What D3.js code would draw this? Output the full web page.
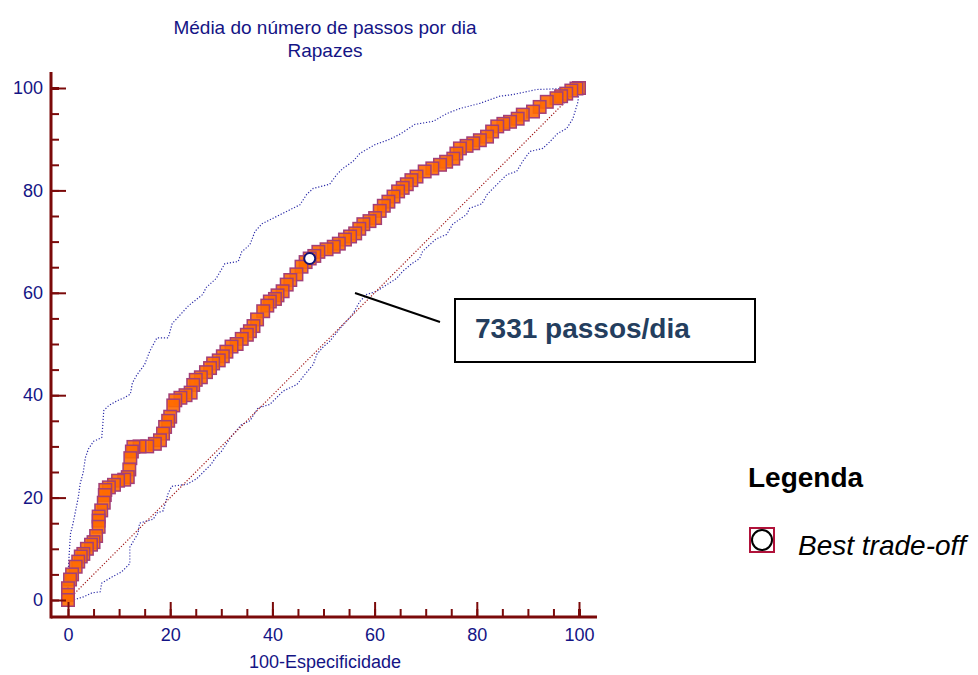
<!DOCTYPE html>
<html lang="pt">
<head>
  <meta charset="UTF-8">
  <title>Média do número de passos por dia - Rapazes</title>
  <script src="https://cdn.jsdelivr.net/npm/d3@7"></script>
  <style>
    body { margin: 0; background: #fff; }
    svg { display: block; font-family: "Liberation Sans", Arial, sans-serif; }
  </style>
</head>
<body>
  <script>

    // ROC curve (100-Especificidade, Sensibilidade)
    var rocX = [0,0,0,0.4,0.8,1.5,2,2.5,3,3.7,4.5,5,5.5,6,6,6,6.5,7,7.2,7.3,8,9,9.8,11,11.7,12,12.2,12.5,12.8,14,15.5,17,18,18.6,19,19.6,20,20.6,21,22,23,24,24.5,25,26,27,27.8,28.4,29.5,30.3,31,32,33,34,35,35.6,36.3,37,38.2,39,39.5,40.5,41,42,42.8,43.5,44.7,45.7,46.5,47.3,48.2,49,50.6,52,53,54.2,55.2,56.2,57,57.8,59,60.1,61,61.8,62.7,63.7,64.6,65.5,66.3,67.2,68.2,69.8,71.3,72.8,74,75.4,76,76.7,78,79.3,80.6,82,83,84,85.2,86.5,88,89,91,92.3,93.7,95.6,96.5,97.5,98.5,99.5,100];
    var rocY = [0,1,2.3,4,5,6.5,7.5,8.5,9,10,10.8,11.3,12.5,14.3,15.5,16.3,17.5,19,20.5,21.5,22,22.5,23.3,23.5,24,25.5,27.7,29,29.9,30,30,30.5,31.2,32.5,33.8,35,35.8,38,39,39.5,40,40.5,42,43,43.5,44.5,45.3,46.2,46.8,47.6,48.5,49.5,50,51,51.8,52.5,53.5,54.8,56.4,57.5,58.3,58.8,59.5,60.3,61.6,62.5,63.6,65.1,66,66.7,67.2,68,68.5,69,69.6,70.4,71,71.6,72.5,73.4,74,74.6,76,77,77.8,78.8,79.8,80.5,81.2,82,82.7,83.7,84.3,85,85.6,86.2,87.2,88.2,88.7,89.2,89.8,90.5,91.5,92.5,93,93.4,94,94.8,95.4,96.3,97.3,98,98.4,98.9,99.5,99.9,100];

    // upper 95% confidence bound
    var upperX = [0,0,0.3,0.5,1,1.4,2,2.4,3,3.4,4,5,6.6,6.8,7,8,9.6,11,12.2,12.6,13.5,15,16,17.4,19.6,20.4,22.6,23.6,26.4,27,29,30.7,33.3,34,35.6,36.6,38,41,43,45.4,46.7,48,51.2,52.6,53.8,55.8,57.1,60,63,65,67.9,71.5,74.1,76.7,80.6,84.5,87,91.7,96.8,100];
    var upperY = [0,5,10,13,15,17,20,22.8,25,27.8,29.5,31,31.7,34,37,38,38.9,39.5,40.2,42.4,44,46,48.6,51.2,51.2,54,56.4,57.5,59.7,61,62.8,65.7,66.1,68,69.4,72,73.5,75,76,77.2,79.2,80.4,81.2,83.1,84.3,85.7,87.2,88.9,90,91,92.9,93.5,95,96,97,98.4,98.7,99.7,99.9,100];

    // lower 95% confidence bound
    var lowerX = [0,1,3,4.7,6.3,6.6,8.6,10.5,12.1,12.1,13.7,14,16.7,17.4,18.6,19.6,20.3,23.3,25.2,26.5,28,29,30,31,32,34,35.6,37.2,39.5,42.1,44.8,46.8,48,48.7,50,51.2,53.2,55.7,57.1,58.5,60.4,62.4,64.3,65.5,67.3,68.8,69.4,70.8,72,74.1,75.3,78,78.6,81,82,84.5,85.9,87.8,89,90.4,92.9,94.3,95.8,97.6,98.8,99.8,100];
    var lowerY = [0,0,0.6,1.4,1.6,3.3,4.5,5.5,7.1,10.3,13,15,15.8,17,17.4,20.8,22.2,22.6,23.7,25,26.5,28,29,30.5,32,34.3,35,37.5,38.2,40.8,42.1,44.6,46,48,49.5,50.5,53,55.8,58.3,59.7,60.3,61.6,62.8,64.2,65.7,66.7,68.1,69.4,70.5,71.4,73.4,75.3,76.5,77.4,79.2,81.7,83.1,83.7,85.7,87.6,88.2,89.5,91.1,92.1,94,97.3,100];

    // best trade-off criterion
    var bestPoint = [47.3, 66.7];
    var bestLabel = "7331 passos/dia";

    var xTicks = [0, 20, 40, 60, 80, 100];
    var yTicks = [0, 20, 40, 60, 80, 100];
    var minorTicks = d3.range(0, 101, 5);

    var titleLines = ["Média do número de passos por dia", "Rapazes"];
    var xTitle = "100-Especificidade";
    var legendTitle = "Legenda";
    var legendLabel = "Best trade-off";

    var axisColor = "#7b0a0a";
    var textBlue = "#141485";

    var width = 978, height = 675;

    var svg = d3.select("body")
      .append("svg")
        .attr("width", width)
        .attr("height", height);

    var x = d3.scaleLinear().domain([0, 100]).range([68, 579]);
    var y = d3.scaleLinear().domain([0, 100]).range([600, 88]);

    var axisY = 617, axisX = 51;

    // title
    svg.append("g")
      .selectAll("text")
      .data(titleLines)
      .enter()
      .append("text")
        .attr("x", 325)
        .attr("y", function(d, i) { return 34 + i * 23; })
        .attr("text-anchor", "middle")
        .attr("fill", textBlue)
        .style("font-size", "19px")
        .text(function(d) { return d; });

    // confidence bands
    var band = d3.line()
      .x(function(d) { return x(d[0]); })
      .y(function(d) { return y(d[1]); });

    [[upperX, upperY], [lowerX, lowerY]].forEach(function(b) {
      svg.append("path")
        .datum(d3.zip(b[0], b[1]))
        .attr("d", band)
        .attr("fill", "none")
        .attr("stroke", "#2c2ca8")
        .attr("stroke-width", 1.2)
        .attr("stroke-dasharray", "1.2,1.8");
    });

    // diagonal reference line
    svg.append("line")
      .attr("x1", x(0)).attr("y1", y(0))
      .attr("x2", x(100)).attr("y2", y(100))
      .attr("stroke", "#a01818")
      .attr("stroke-width", 1.2)
      .attr("stroke-dasharray", "1.2,1.8");

    // ROC squares
    var pts = d3.zip(rocX, rocY).reverse();
    var sq = 12.5;
    svg.append("g")
      .selectAll("rect")
      .data(pts)
      .enter()
      .append("rect")
        .attr("x", function(d) { return x(d[0]) - sq / 2; })
        .attr("y", function(d) { return y(d[1]) - sq / 2; })
        .attr("width", sq)
        .attr("height", sq)
        .attr("fill", "#ff6a00")
        .attr("fill-opacity", 0.9)
        .attr("stroke", "#a33f78")
        .attr("stroke-width", 1.5);

    // best trade-off point
    svg.append("circle")
      .attr("cx", x(bestPoint[0]))
      .attr("cy", y(bestPoint[1]))
      .attr("r", 5.5)
      .attr("fill", "#fff")
      .attr("stroke", "#141475")
      .attr("stroke-width", 2);

    // axes
    var xMajor = d3.axisBottom(x).tickValues(xTicks).tickSize(-15).tickPadding(11).tickFormat(d3.format("d"));
    var xMinor = d3.axisBottom(x).tickValues(minorTicks).tickSize(-8).tickFormat("");
    var yMajor = d3.axisLeft(y).tickValues(yTicks).tickSize(-15).tickPadding(8).tickFormat(d3.format("d"));
    var yMinor = d3.axisLeft(y).tickValues(minorTicks).tickSize(-8).tickFormat("");

    var gx = svg.append("g").attr("transform", "translate(0," + axisY + ")");
    gx.append("g").call(xMinor);
    gx.append("g").call(xMajor);
    var gy = svg.append("g").attr("transform", "translate(" + axisX + ",0)");
    gy.append("g").call(yMinor);
    gy.append("g").call(yMajor);

    svg.selectAll(".domain").remove();
    svg.selectAll(".tick line").attr("stroke", axisColor).attr("stroke-width", 2);
    gx.select("g:last-child").selectAll(".tick line").attr("stroke-width", 3);
    gy.select("g:last-child").selectAll(".tick line").attr("stroke-width", 3);
    svg.selectAll(".tick text")
      .attr("fill", textBlue)
      .style("font-size", "18px")
      .style("font-family", "'Liberation Sans', Arial, sans-serif");

    svg.append("line")
      .attr("x1", axisX).attr("y1", axisY)
      .attr("x2", 597).attr("y2", axisY)
      .attr("stroke", axisColor).attr("stroke-width", 3);
    svg.append("line")
      .attr("x1", axisX).attr("y1", 72)
      .attr("x2", axisX).attr("y2", axisY + 1.5)
      .attr("stroke", axisColor).attr("stroke-width", 3);

    svg.append("text")
      .attr("x", 325)
      .attr("y", 668)
      .attr("text-anchor", "middle")
      .attr("fill", textBlue)
      .style("font-size", "18px")
      .text(xTitle);

    // annotation
    svg.append("line")
      .attr("x1", 355).attr("y1", 293)
      .attr("x2", 440).attr("y2", 322)
      .attr("stroke", "#000")
      .attr("stroke-width", 2);
    svg.append("rect")
      .attr("x", 455).attr("y", 299)
      .attr("width", 300).attr("height", 63)
      .attr("fill", "#fff")
      .attr("stroke", "#000")
      .attr("stroke-width", 2);
    svg.append("text")
      .attr("x", 475).attr("y", 338)
      .attr("fill", "#243e5e")
      .style("font-size", "28px")
      .style("font-weight", "bold")
      .text(bestLabel);

    // legend
    svg.append("text")
      .attr("x", 748).attr("y", 487)
      .attr("fill", "#000")
      .style("font-size", "28px")
      .style("font-weight", "bold")
      .text(legendTitle);
    svg.append("rect")
      .attr("x", 750).attr("y", 528)
      .attr("width", 24).attr("height", 24)
      .attr("fill", "#fff")
      .attr("stroke", "#b0123a")
      .attr("stroke-width", 2);
    svg.append("circle")
      .attr("cx", 762).attr("cy", 540)
      .attr("r", 10)
      .attr("fill", "#fff")
      .attr("stroke", "#000")
      .attr("stroke-width", 2);
    svg.append("text")
      .attr("x", 798).attr("y", 555)
      .attr("fill", "#000")
      .style("font-size", "28px")
      .style("font-style", "italic")
      .text(legendLabel);

  </script>
</body>
</html>
